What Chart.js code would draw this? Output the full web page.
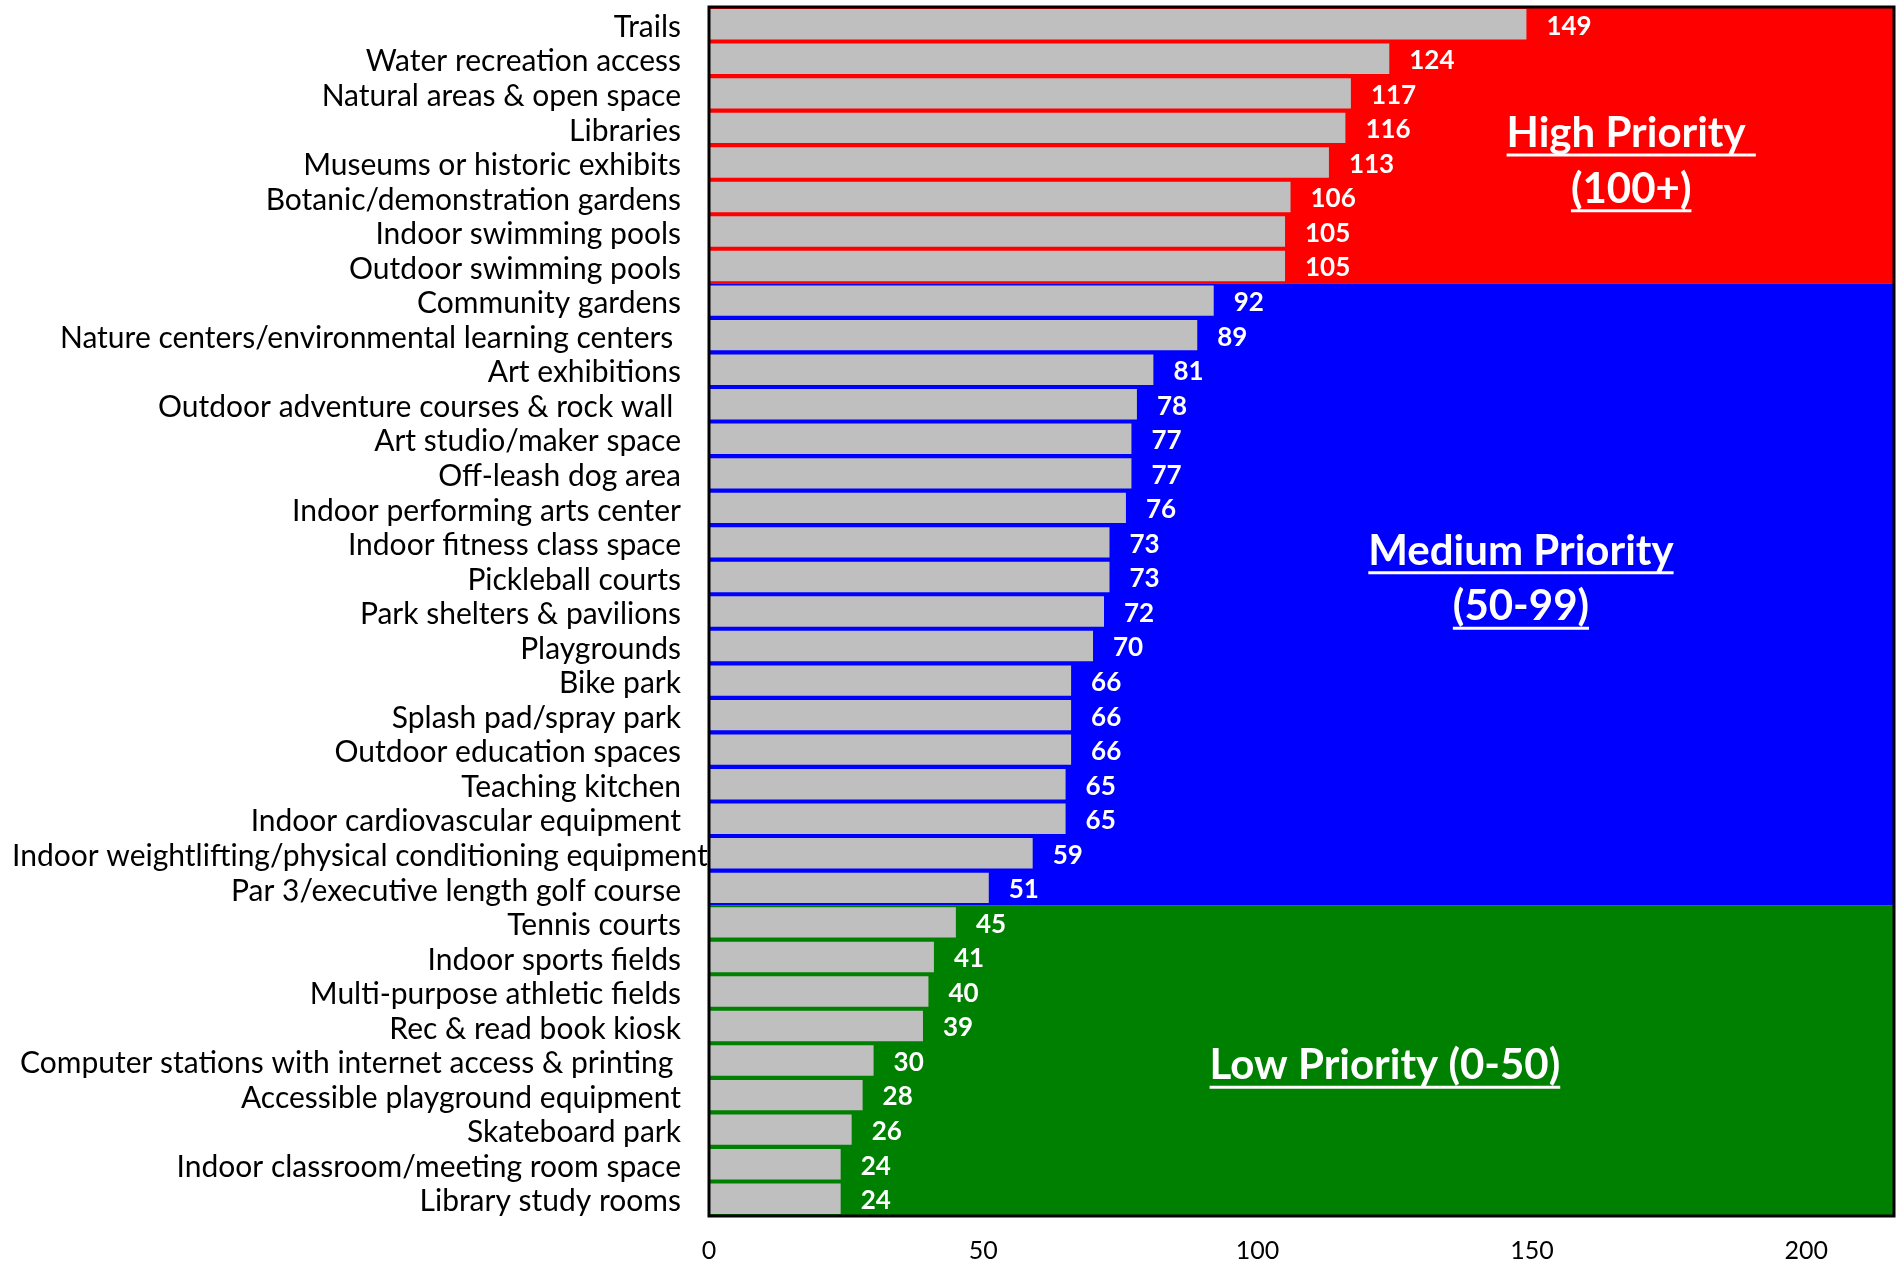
<!DOCTYPE html>
<html>
<head>
<meta charset="utf-8">
<title>Amenity priorities</title>
<script src="https://cdn.jsdelivr.net/npm/chart.js@4.4.1/dist/chart.umd.min.js"></script>
<style>
  html, body { margin: 0; padding: 0; background: #fff; }
  #wrap { width: 1896px; height: 1262px; position: relative; }
</style>
</head>
<body>
<div id="wrap"><canvas id="chart"></canvas></div>
<script>
// amenities, top to bottom as in the chart (trailing spaces kept from the source labels)
const amenities = [
  'Trails', 'Water recreation access', 'Natural areas & open space', 'Libraries',
  'Museums or historic exhibits', 'Botanic/demonstration gardens', 'Indoor swimming pools',
  'Outdoor swimming pools', 'Community gardens', 'Nature centers/environmental learning centers ',
  'Art exhibitions', 'Outdoor adventure courses & rock wall ', 'Art studio/maker space',
  'Off-leash dog area', 'Indoor performing arts center', 'Indoor fitness class space',
  'Pickleball courts', 'Park shelters & pavilions', 'Playgrounds', 'Bike park',
  'Splash pad/spray park', 'Outdoor education spaces', 'Teaching kitchen',
  'Indoor cardiovascular equipment', 'Indoor weightlifting/physical conditioning equipment',
  'Par 3/executive length golf course', 'Tennis courts', 'Indoor sports fields',
  'Multi-purpose athletic fields', 'Rec & read book kiosk',
  'Computer stations with internet access & printing ', 'Accessible playground equipment',
  'Skateboard park', 'Indoor classroom/meeting room space', 'Library study rooms',
];
const scores = [
  149, 124, 117, 116, 113, 106, 105, 105, 92, 89, 81, 78, 77, 77, 76, 73, 73, 72,
  70, 66, 66, 66, 65, 65, 59, 51, 45, 41, 40, 39, 30, 28, 26, 24, 24,
];
const xTicks = [0, 50, 100, 150, 200];
const xMax = 216;

// priority bands
const bandFloors = [100, 50, 0];
const bandColors = ['#ff0000', '#0000ff', '#008000'];
const bandTitles = [['High Priority ', '(100+)'], ['Medium Priority', '(50-99)'], ['Low Priority (0-50)']];

const FONT = 'Lato, "Liberation Sans", sans-serif';

function bandOf(v) {
  for (let b = 0; b < bandFloors.length; b++) {
    if (v >= bandFloors[b]) return b;
  }
  return bandFloors.length - 1;
}

// where the band titles sit, in scale units (x value, y category index of baseline)
const titleSpots = [
  { x: 168.1, y: [3.55, 5.17] },
  { x: 148, y: [15.65, 17.25] },
  { x: 123.2, y: [30.54] },
];

const bandsPlugin = {
  id: 'bands',
  beforeDatasetsDraw(chart) {
    const { ctx, chartArea, scales: { y } } = chart;
    ctx.save();
    let start = 0;
    for (let i = 1; i <= scores.length; i++) {
      if (i === scores.length || bandOf(scores[i]) !== bandOf(scores[start])) {
        const top = Math.max(chartArea.top, y.getPixelForValue(start - 0.5));
        const bottom = Math.min(chartArea.bottom, y.getPixelForValue(i - 0.5));
        ctx.fillStyle = bandColors[bandOf(scores[start])];
        ctx.fillRect(chartArea.left, top, chartArea.right - chartArea.left, bottom - top);
        start = i;
      }
    }
    ctx.restore();
  },
  afterDatasetsDraw(chart) {
    const { ctx, chartArea, scales: { x, y } } = chart;
    ctx.save();

    // value labels
    const meta = chart.getDatasetMeta(0);
    ctx.fillStyle = '#ffffff';
    ctx.font = 'bold 26px ' + FONT;
    ctx.textAlign = 'left';
    ctx.textBaseline = 'middle';
    meta.data.forEach((bar, i) => {
      ctx.fillText(String(scores[i]), bar.x + 20, bar.y + 2);
    });

    // band titles, underlined
    ctx.font = 'bold 42px ' + FONT;
    ctx.textAlign = 'center';
    ctx.textBaseline = 'alphabetic';
    ctx.strokeStyle = '#ffffff';
    ctx.lineWidth = 3;
    bandTitles.forEach((lines, b) => {
      const cx = x.getPixelForValue(titleSpots[b].x);
      lines.forEach((txt, k) => {
        const by = y.getPixelForValue(titleSpots[b].y[k]);
        ctx.fillText(txt, cx, by);
        const w = ctx.measureText(txt).width;
        ctx.beginPath();
        ctx.moveTo(cx - w / 2, by + 8);
        ctx.lineTo(cx + w / 2, by + 8);
        ctx.stroke();
      });
    });

    // plot frame
    ctx.strokeStyle = '#000000';
    ctx.lineWidth = 3;
    ctx.strokeRect(chartArea.left, chartArea.top, chartArea.right - chartArea.left, chartArea.bottom - chartArea.top);
    ctx.restore();
  },
  afterDraw(chart) {
    // category labels: right aligned, longest one pushed against the left edge like the source
    const { ctx, chartArea, scales: { y } } = chart;
    ctx.save();
    ctx.fillStyle = '#000000';
    ctx.font = '30px ' + FONT;
    ctx.textAlign = 'left';
    ctx.textBaseline = 'middle';
    const rightEdge = chartArea.left - 28;
    amenities.forEach((name, i) => {
      const w = ctx.measureText(name).width;
      const left = Math.max(12, rightEdge - w);
      ctx.fillText(name, left, y.getPixelForValue(i) + 3);
    });
    ctx.restore();
  },
};

function draw() {
  new Chart(document.getElementById('chart'), {
    type: 'bar',
    data: {
      labels: amenities,
      datasets: [{
        data: scores,
        backgroundColor: '#bfbfbf',
        borderWidth: 0,
        barPercentage: 0.88,
        categoryPercentage: 1,
      }],
    },
    options: {
      indexAxis: 'y',
      responsive: true,
      maintainAspectRatio: false,
      animation: false,
      devicePixelRatio: 1,
      layout: { padding: { left: 709, top: 7, right: 2, bottom: 0 } },
      plugins: { legend: { display: false }, tooltip: { enabled: false } },
      scales: {
        x: {
          min: 0,
          max: xMax,
          afterBuildTicks: scale => { scale.ticks = xTicks.map(v => ({ value: v })); },
          afterFit: scale => { scale.height = 46; },
          grid: { display: false, drawTicks: false },
          border: { display: false },
          ticks: { color: '#000000', padding: 20, font: { family: FONT, size: 25 } },
        },
        y: { display: false },
      },
    },
    plugins: [bandsPlugin],
  });
}

Promise.all([
  document.fonts.load('30px Lato'),
  document.fonts.load('bold 30px Lato'),
]).then(draw, draw);
</script>
</body>
</html>
